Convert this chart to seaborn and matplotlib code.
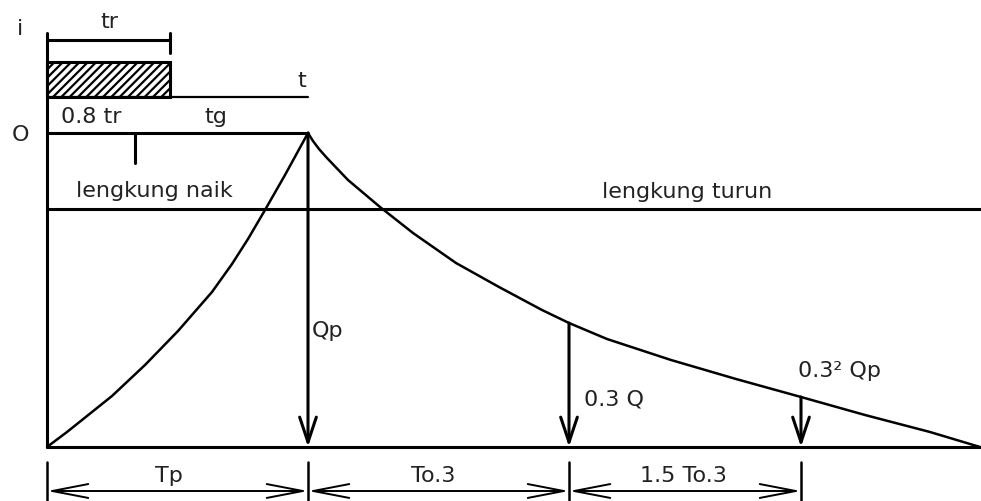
import matplotlib
matplotlib.use("Agg")
import matplotlib.pyplot as plt
from matplotlib.patches import Rectangle
import seaborn as sns
import pandas as pd

# ---- data (diagram units: time t to the right, discharge Q upward) ----
rise_t = [0, 20, 40, 65, 98, 131, 165, 185, 201, 218, 238, 261]
rise_q = [0, 15, 31, 51, 82, 116, 155, 183, 208, 237, 272, 314]
fall_t = [261, 266, 272, 280, 301, 333, 366, 409, 452, 495, 522, 560, 624, 689, 754, 818, 883, 933]
fall_q = [314, 306, 298, 289, 267, 240, 214, 184, 160, 137, 124, 108, 87, 68, 50, 32, 15, 0]

t_marks = [0, 261, 522, 754]            # 0, Tp, Tp+To.3, Tp+2.5To.3
q_marks = [314, 124, 50]                 # Qp, 0.3Q, 0.3^2 Qp
q_labels = ["Qp", "0.3 Q", "0.3² Qp"]
dim_labels = ["Tp", "To.3", "1.5 To.3"]
tr_end = 123
tr_08 = 88
rain_base = 350
rain_top = 385
lengkung_q = 238

sns.set_style("white")
plt.rcParams['font.family'] = ['DejaVu Sans']
plt.rcParams['hatch.linewidth'] = 1.6

fig = plt.figure(figsize=(9.81, 5.01), dpi=100)
ax = fig.add_axes([0, 0, 1, 1])
ax.set_xlim(-47, 934)
ax.set_ylim(-54, 447)
ax.axis("off")

K = "black"
LW = 2.2
FS = 16

rise = pd.DataFrame({"t": rise_t, "Q": rise_q})
fall = pd.DataFrame({"t": fall_t, "Q": fall_q})
sns.lineplot(data=rise, x="t", y="Q", color=K, lw=1.8, sort=False, ax=ax)
sns.lineplot(data=fall, x="t", y="Q", color=K, lw=1.8, sort=False, ax=ax)

# axes lines
ax.plot([0, 934], [0, 0], color=K, lw=LW)
ax.plot([0, 0], [0, 414], color=K, lw=LW)
ax.plot([0, t_marks[1]], [q_marks[0], q_marks[0]], color=K, lw=LW)
ax.plot([0, 934], [lengkung_q, lengkung_q], color=K, lw=LW)
ax.plot([tr_08, tr_08], [q_marks[0], q_marks[0] - 30], color=K, lw=LW)

# rainfall block
ax.add_patch(Rectangle((0, rain_base), tr_end, rain_top - rain_base,
                       fill=False, hatch="////", lw=LW, edgecolor=K))
ax.plot([0, t_marks[1]], [rain_base, rain_base], color=K, lw=1.6)
ax.plot([0, tr_end], [407, 407], color=K, lw=LW)
ax.plot([tr_end, tr_end], [394, 414], color=K, lw=LW)

# vertical arrows
for t, q in zip(t_marks[1:], q_marks):
    ax.annotate("", xy=(t, 0), xytext=(t, q),
                arrowprops=dict(arrowstyle="->,head_length=0.9,head_width=0.3",
                                color=K, lw=LW, shrinkA=0, shrinkB=0,
                                mutation_scale=20))

# dimension lines
for t in t_marks:
    ax.plot([t, t], [-15, -54], color=K, lw=1.8)
for a, b in zip(t_marks[:-1], t_marks[1:]):
    ax.annotate("", xy=(b, -44), xytext=(a, -44),
                arrowprops=dict(arrowstyle="<->,head_length=1.3,head_width=0.25",
                                color=K, lw=1.4, shrinkA=0, shrinkB=0,
                                mutation_scale=20))

tk = dict(fontsize=FS, color="#222222", va="baseline")
ax.text(-27, 412, "i", ha="center", **tk)
ax.text(62, 419, "tr", ha="center", **tk)
ax.text(255, 360, "t", ha="center", **tk)
ax.text(44, 324, "0.8 tr", ha="center", **tk)
ax.text(169, 324, "tg", ha="center", **tk)
ax.text(-26.5, 312.5, "O", ha="center", va="center", fontsize=FS, color="#222222")
ax.text(107, 250, "lengkung naik", ha="center", **tk)
ax.text(640, 249, "lengkung turun", ha="center", **tk)

q_pos = [(265, 110, "left"), (567, 41, "center"), (793, 70, "center")]
for (x, y, ha), lab in zip(q_pos, q_labels):
    ax.text(x, y, lab, ha=ha, **tk)

dim_x = [122, 386, 636]
for x, lab in zip(dim_x, dim_labels):
    ax.text(x, -35, lab, ha="center", **tk)

fig.savefig("out.png", dpi=100, facecolor="white")
